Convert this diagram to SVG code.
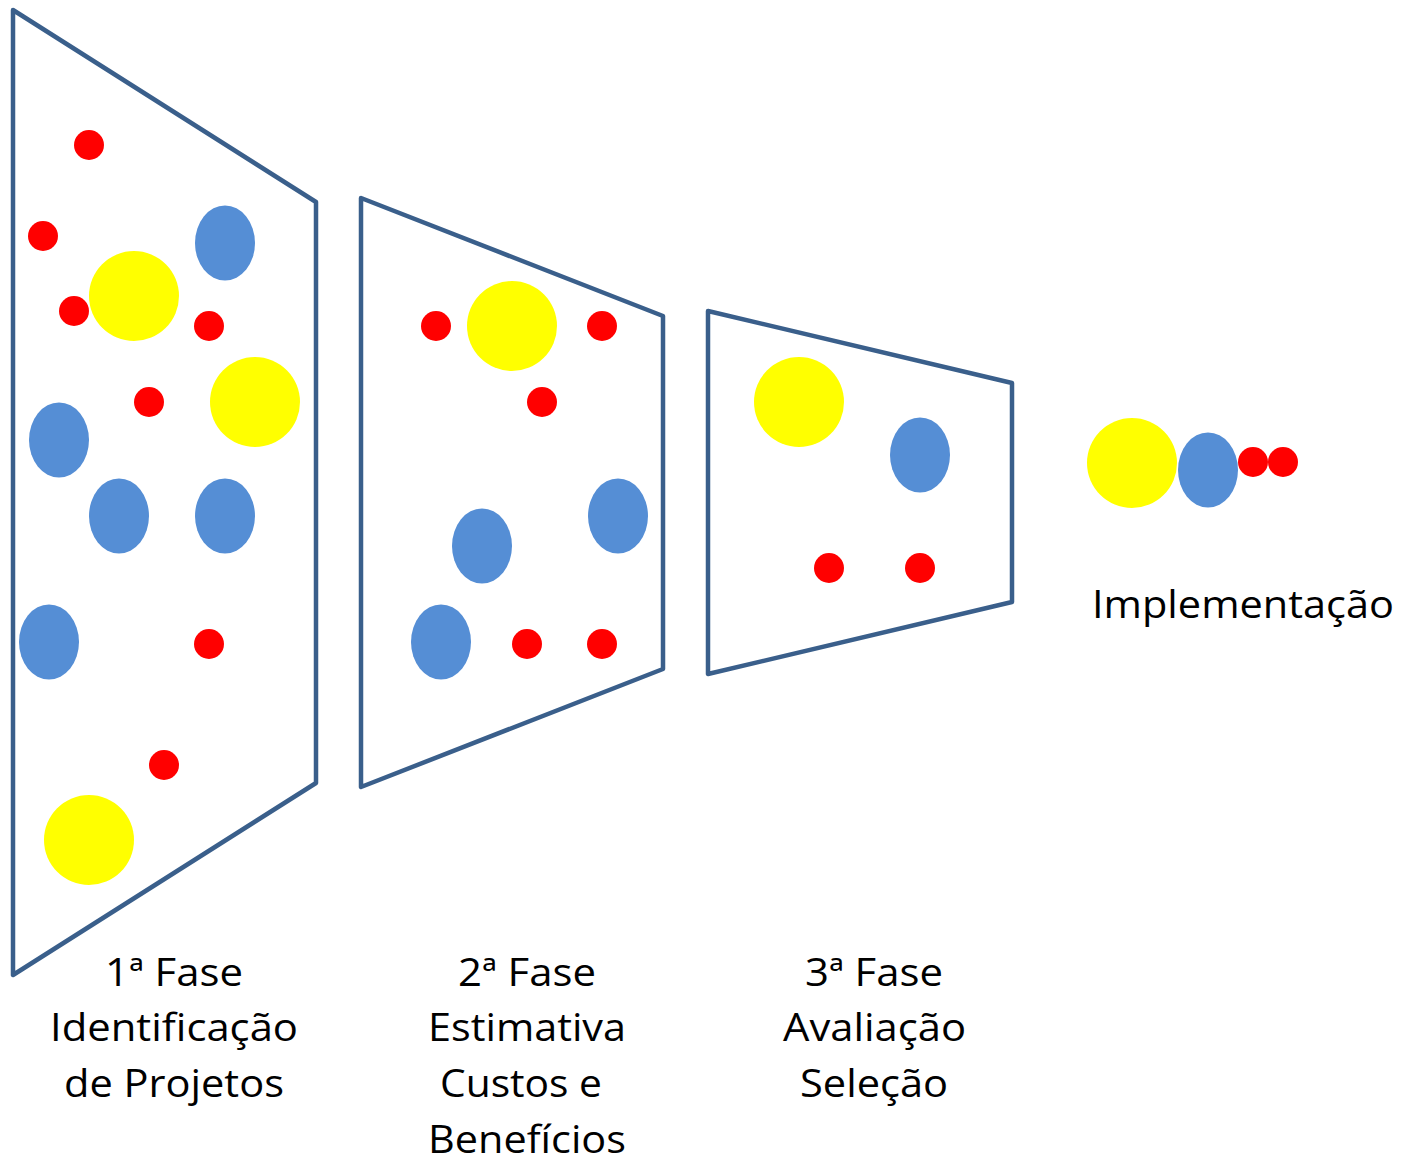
<svg xmlns="http://www.w3.org/2000/svg" width="1408" height="1163" viewBox="0 0 1408 1163">
  <style>
    .frame { fill: #ffffff; stroke: #3A5F8B; stroke-width: 4.5; stroke-linejoin: round; }
    .r { fill: #FF0000; }
    .y { fill: #FFFF00; }
    .b { fill: #558ED5; }
    .lbl { font-family: "Open Sans", "Liberation Sans", sans-serif; font-size: 39px; fill: #000000; text-anchor: middle; }
  </style>
  <defs>
    <circle id="red" r="15" class="r"/>
    <circle id="yel" r="45" class="y"/>
    <ellipse id="blu" rx="30" ry="37.5" class="b"/>
  </defs>
  <rect width="1408" height="1163" fill="#ffffff"/>

  <!-- Phase 1: project identification -->
  <g id="fase1">
    <polygon class="frame" points="13,10 316,202 316,783 13,975"/>
    <use href="#red" x="89" y="145"/>
    <use href="#red" x="43" y="236"/>
    <use href="#red" x="74" y="311"/>
    <use href="#red" x="209" y="326"/>
    <use href="#red" x="149" y="402"/>
    <use href="#red" x="209" y="644"/>
    <use href="#red" x="164" y="765"/>
    <use href="#yel" x="134" y="296"/>
    <use href="#yel" x="255" y="402"/>
    <use href="#yel" x="89" y="840"/>
    <use href="#blu" x="225" y="243"/>
    <use href="#blu" x="59" y="440"/>
    <use href="#blu" x="119" y="516"/>
    <use href="#blu" x="225" y="516"/>
    <use href="#blu" x="49" y="642"/>
  </g>

  <!-- Phase 2: cost and benefit estimate -->
  <g id="fase2">
    <polygon class="frame" points="361,198 663,316 663,669 361,787"/>
    <use href="#red" x="436" y="326"/>
    <use href="#red" x="602" y="326"/>
    <use href="#red" x="542" y="402"/>
    <use href="#red" x="527" y="644"/>
    <use href="#red" x="602" y="644"/>
    <use href="#yel" x="512" y="326"/>
    <use href="#blu" x="482" y="546"/>
    <use href="#blu" x="618" y="516"/>
    <use href="#blu" x="441" y="642"/>
  </g>

  <!-- Phase 3: evaluation and selection -->
  <g id="fase3">
    <polygon class="frame" points="708,311 1012,383 1012,602 708,674"/>
    <use href="#yel" x="799" y="402"/>
    <use href="#blu" x="920" y="455"/>
    <use href="#red" x="829" y="568"/>
    <use href="#red" x="920" y="568"/>
  </g>

  <!-- Implementation: the selected projects -->
  <g id="implementacao">
    <use href="#yel" x="1132" y="463"/>
    <use href="#blu" x="1208" y="470"/>
    <use href="#red" x="1253" y="462"/>
    <use href="#red" x="1283" y="462"/>
    <text class="lbl" x="1243" y="618" textLength="302" lengthAdjust="spacingAndGlyphs">Implementação</text>
  </g>

  <!-- Phase captions -->
  <g id="legenda1">
    <text class="lbl" x="174" y="986" textLength="138" lengthAdjust="spacingAndGlyphs">1ª Fase</text>
    <text class="lbl" x="174" y="1041" textLength="248" lengthAdjust="spacingAndGlyphs">Identificação</text>
    <text class="lbl" x="174" y="1097" textLength="220" lengthAdjust="spacingAndGlyphs">de Projetos</text>
  </g>
  <g id="legenda2">
    <text class="lbl" x="527" y="986" textLength="138" lengthAdjust="spacingAndGlyphs">2ª Fase</text>
    <text class="lbl" x="527" y="1041" textLength="198" lengthAdjust="spacingAndGlyphs">Estimativa</text>
    <text class="lbl" x="521" y="1097" textLength="162" lengthAdjust="spacingAndGlyphs">Custos e</text>
    <text class="lbl" x="527" y="1153" textLength="198" lengthAdjust="spacingAndGlyphs">Benefícios</text>
  </g>
  <g id="legenda3">
    <text class="lbl" x="874" y="986" textLength="138" lengthAdjust="spacingAndGlyphs">3ª Fase</text>
    <text class="lbl" x="874.5" y="1041" textLength="183" lengthAdjust="spacingAndGlyphs">Avaliação</text>
    <text class="lbl" x="874" y="1097" textLength="148" lengthAdjust="spacingAndGlyphs">Seleção</text>
  </g>
</svg>
